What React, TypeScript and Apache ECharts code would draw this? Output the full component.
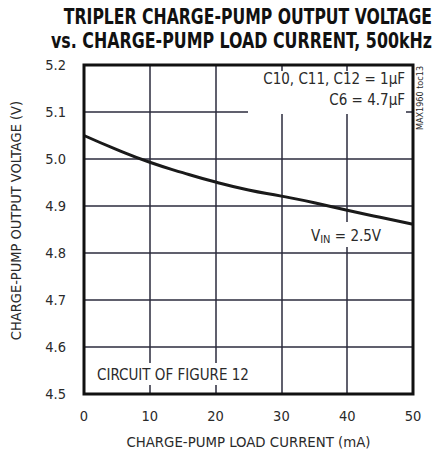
import React, { useEffect, useRef } from "react";
import * as echarts from "echarts";

const loadCurrent = [0, 5, 10, 15, 20, 25, 30, 35, 40, 45, 50];
const outputVoltage = [5.05, 5.02, 4.993, 4.971, 4.951, 4.934, 4.921, 4.907, 4.891, 4.876, 4.861];
const titleLines = ["TRIPLER CHARGE-PUMP OUTPUT VOLTAGE", "vs. CHARGE-PUMP LOAD CURRENT, 500kHz"];
const xName = "CHARGE-PUMP LOAD CURRENT (mA)";
const yName = "CHARGE-PUMP OUTPUT VOLTAGE (V)";
const capLabel1 = "C10, C11, C12 = 1µF";
const capLabel2 = "C6 = 4.7µF";
const circuitLabel = "CIRCUIT OF FIGURE 12";
const tocLabel = "MAX1960 toc13";

const FONT = "'DejaVu Sans Condensed', 'Liberation Sans Narrow', sans-serif";
const TXT = "#2a2a2a";
const GRIDC = "#2b2b3d";

export default function App() {
  const ref = useRef<HTMLDivElement>(null);
  useEffect(() => {
    if (!ref.current) return;
    const chart = echarts.init(ref.current, null, { renderer: "svg" });
    const data = loadCurrent.map((x, i) => [x, outputVoltage[i]]);
    chart.setOption({
      animation: false,
      backgroundColor: "#fff",
      grid: {
        show: true,
        left: 84,
        top: 65,
        width: 329,
        height: 329,
        borderColor: "#111",
        borderWidth: 3,
        backgroundColor: "transparent",
        z: 10,
      },
      xAxis: {
        type: "value",
        min: 0,
        max: 50,
        interval: 10,
        name: xName,
        nameLocation: "middle",
        nameGap: 40,
        nameTextStyle: { fontFamily: FONT, fontSize: 14.8, color: TXT, verticalAlign: "top" },
        axisLine: { show: false },
        axisTick: { show: false },
        axisLabel: { fontFamily: FONT, fontSize: 14.5, color: TXT, margin: 14 },
        splitLine: { show: true, lineStyle: { color: GRIDC, width: 1.5 } },
      },
      yAxis: {
        type: "value",
        min: 4.5,
        max: 5.2,
        interval: 0.1,
        name: yName,
        nameLocation: "middle",
        nameGap: 61,
        nameRotate: 90,
        nameTextStyle: { fontFamily: FONT, fontSize: 14.5, color: TXT, padding: [0, 0, 0, 18] },
        axisLine: { show: false },
        axisTick: { show: false },
        axisLabel: {
          fontFamily: FONT,
          fontSize: 14.5,
          color: TXT,
          margin: 18,
          formatter: (v: number) => v.toFixed(1),
        },
        splitLine: { show: true, lineStyle: { color: GRIDC, width: 1.5 } },
      },
      graphic: [
        {
          type: "text", z: 6, x: 432, y: 6, scaleX: 0.83,
          style: {
            text: titleLines[0], align: "right", verticalAlign: "top",
            font: `900 21px ${FONT}`, fill: "#111",
          },
        },
        {
          type: "text", z: 6, x: 432, y: 30, scaleX: 0.84,
          style: {
            text: titleLines[1], align: "right", verticalAlign: "top",
            font: `900 21px ${FONT}`, fill: "#111",
          },
        },
        { type: "rect", z: 5, shape: { x: 248, y: 71, width: 158, height: 43 }, style: { fill: "#fff" } },
        { type: "rect", z: 5, shape: { x: 92, y: 363, width: 160, height: 22 }, style: { fill: "#fff" } },
        { type: "rect", z: 5, shape: { x: 308, y: 222, width: 76, height: 25 }, style: { fill: "#fff" } },
        {
          type: "text", z: 6, x: 405, y: 79,
          style: { text: capLabel1, align: "right", verticalAlign: "middle", font: `15px ${FONT}`, fill: TXT },
        },
        {
          type: "text", z: 6, x: 405, y: 100,
          style: { text: capLabel2, align: "right", verticalAlign: "middle", font: `15px ${FONT}`, fill: TXT },
        },
        {
          type: "text", z: 6, x: 97, y: 375,
          style: { text: circuitLabel, align: "left", verticalAlign: "middle", font: `15px ${FONT}`, fill: TXT },
        },
        {
          type: "text", z: 6, x: 346, y: 236,
          style: {
            text: "{v|V}{s|IN}{v| = 2.5V}",
            align: "center",
            verticalAlign: "middle",
            rich: {
              v: { fontFamily: FONT, fontSize: 15, fill: TXT, color: TXT },
              s: { fontFamily: FONT, fontSize: 11, fill: TXT, color: TXT, padding: [6, 0, 0, 0] },
            },
          },
        },
        {
          type: "text", z: 6, x: 420, y: 98, rotation: Math.PI / 2,
          style: { text: tocLabel, align: "center", verticalAlign: "middle", font: `9px ${FONT}`, fill: TXT },
        },
      ],
      series: [
        {
          type: "line",
          data,
          showSymbol: false,
          smooth: true,
          z: 4,
          lineStyle: { color: "#1a1a1a", width: 3 },
        },
      ],
    });
    return () => chart.dispose();
  }, []);
  return (
    <div
      ref={ref}
      style={{ position: "absolute", left: 0, top: 0, width: 437, height: 455 }}
    />
  );
}
